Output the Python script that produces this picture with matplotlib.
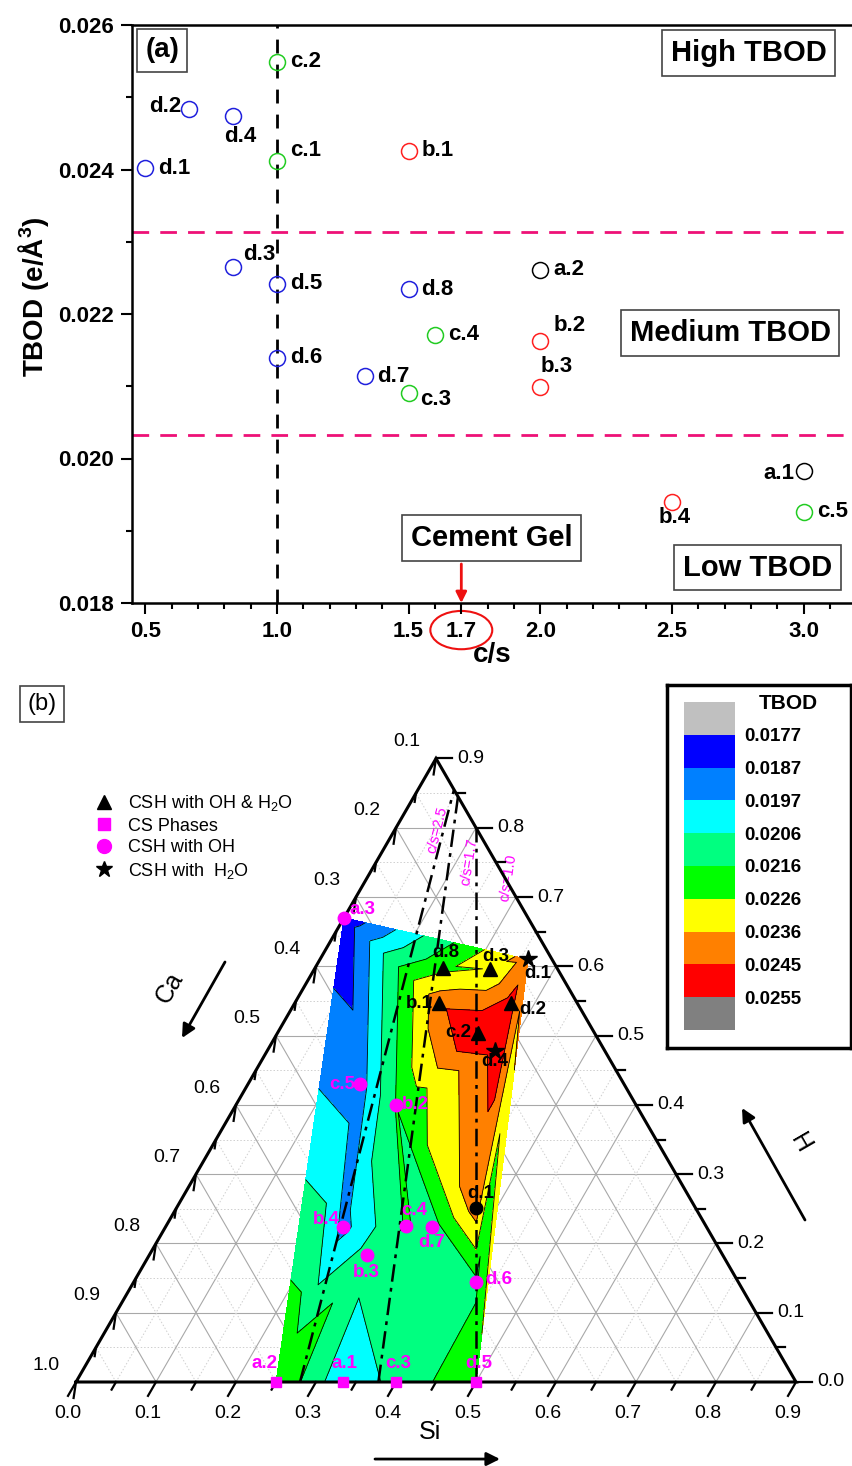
import numpy as np
import matplotlib
matplotlib.use('Agg')
import matplotlib.pyplot as plt
import matplotlib.tri as mtri
from matplotlib.colors import ListedColormap, BoundaryNorm
from matplotlib.patches import Ellipse
from matplotlib.lines import Line2D

plt.rcParams['font.family'] = ['Liberation Sans', 'DejaVu Sans']
plt.rcParams['mathtext.fontset'] = 'custom'
plt.rcParams['mathtext.rm'] = 'Liberation Sans'
plt.rcParams['mathtext.it'] = 'Liberation Sans:italic'
plt.rcParams['mathtext.bf'] = 'Liberation Sans:bold'

# ---- panel (a): TBOD vs c/s ----
names_a = ['d.1', 'd.2', 'd.4', 'c.2', 'c.1', 'b.1', 'd.3', 'd.5', 'd.8', 'a.2',
           'c.4', 'b.2', 'd.6', 'd.7', 'c.3', 'b.3', 'a.1', 'b.4', 'c.5']
cs_ratio = [0.5, 0.667, 0.833, 1.0, 1.0, 1.5, 0.833, 1.0, 1.5, 2.0,
            1.6, 2.0, 1.0, 1.333, 1.5, 2.0, 3.0, 2.5, 3.0]
tbod_a = [0.02402, 0.02484, 0.02474, 0.02549, 0.02412, 0.02426, 0.02265, 0.02242, 0.02235, 0.02261,
          0.02171, 0.02163, 0.02139, 0.02114, 0.02091, 0.02099, 0.01983, 0.01940, 0.01926]
group_colour = {'a': 'black', 'b': '#ff2020', 'c': '#22cc22', 'd': '#2020dd'}
high_cut = 0.02313
low_cut = 0.02033

# ---- panel (b): ternary Ca-Si-H map ----
names_b = ['a.3', 'd.8', 'd.3', 'd.1', 'b.1', 'd.2', 'c.2', 'd.4', 'c.5', 'b.2',
           'd.1', 'b.4', 'c.4', 'd.7', 'b.3', 'd.6', 'a.2', 'a.1', 'c.3', 'd.5']
si_b = [0.00, 0.16, 0.22, 0.26, 0.18, 0.27, 0.25, 0.285, 0.14, 0.20,
        0.375, 0.222, 0.30, 0.333, 0.272, 0.428, 0.25, 0.334, 0.40, 0.50]
h_b = [0.67, 0.598, 0.596, 0.61, 0.547, 0.547, 0.504, 0.478, 0.43, 0.40,
       0.251, 0.224, 0.225, 0.224, 0.183, 0.144, 0.0, 0.0, 0.0, 0.0]
kind_b = ['oh', 'both', 'both', 'h2o', 'both', 'both', 'both', 'h2o', 'oh', 'oh',
          'dot', 'oh', 'oh', 'oh', 'oh', 'oh', 'cs', 'cs', 'cs', 'cs']
tbod_b = [0.0180, 0.02235, 0.02265, 0.02402, 0.02426, 0.02484, 0.02549, 0.02474, 0.01926, 0.02163,
          0.02412, 0.01940, 0.02171, 0.02114, 0.02099, 0.02139, 0.02261, 0.01983, 0.02091, 0.02242]
levels = [0.0177, 0.0187, 0.0197, 0.0206, 0.0216, 0.0226, 0.0236, 0.0245, 0.0255]
band_colours = ['#0000ff', '#0080ff', '#00ffff', '#00ff80', '#00ff00', '#ffff00', '#ff8000', '#ff0000']
under_colour, over_colour = '#c0c0c0', '#808080'
cs_lines = {'c/s=2.5': ([0.28, 0.045], [0.0, 0.855]),
            'c/s=1.7': ([0.378, 0.055], [0.0, 0.845]),
            'c/s=1.0': ([0.50, 0.10], [0.0, 0.80])}

W, H = 852, 1466
fig = plt.figure(figsize=(W / 100, H / 100), dpi=100)

# ================= panel (a) =================
ax1 = fig.add_axes([132 / W, 1 - 603 / H, 720 / W, 578 / H])
ax1.set_xlim(0.45, 3.183)
ax1.set_ylim(0.018, 0.026)

ax1.axhline(high_cut, color='#ee1177', ls=(0, (6, 4)), lw=2, zorder=1)
ax1.axhline(low_cut, color='#ee1177', ls=(0, (6, 4)), lw=2, zorder=1)
ax1.axvline(1.0, color='black', ls=(0, (5, 4)), lw=2, zorder=1)

offsets_a = {0: (13, 0, 'left'), 1: (-8, 2, 'right'), 2: (7, -20, 'center'), 3: (13, 0, 'left'),
             4: (13, 10, 'left'), 5: (13, 0, 'left'), 6: (10, 13, 'left'), 7: (13, 0, 'left'),
             8: (13, -1, 'left'), 9: (13, 0, 'left'), 10: (13, 0, 'left'), 11: (13, 15, 'left'),
             12: (13, 1, 'left'), 13: (13, 0, 'left'), 14: (12, -7, 'left'), 15: (16, 20, 'center'),
             16: (-9, -3, 'right'), 17: (3, -16, 'center'), 18: (13, 0, 'left')}
for i, (n, x, y) in enumerate(zip(names_a, cs_ratio, tbod_a)):
    ax1.plot(x, y, 'o', ms=11.5, mfc='none', mec=group_colour[n[0]], mew=1.1, zorder=3)
    dx, dy, ha = offsets_a[i]
    ax1.annotate(n, (x, y), xytext=(dx, dy), textcoords='offset pixels', ha=ha, va='center',
                 fontsize=16, fontweight='bold', zorder=4)

ax1.set_xticks([0.5, 1.0, 1.5, 1.7, 2.0, 2.5, 3.0])
ax1.set_xticks(np.arange(0.5, 3.15, 0.1), minor=True)
ax1.set_yticks([0.018, 0.020, 0.022, 0.024, 0.026])
ax1.set_yticks(np.arange(0.018, 0.0261, 0.001), minor=True)
ax1.set_yticklabels(['0.018', '0.020', '0.022', '0.024', '0.026'])
for lab in ax1.get_xticklabels() + ax1.get_yticklabels():
    lab.set_fontweight('bold')
ax1.tick_params(which='major', direction='out', length=8, width=1.5, labelsize=16, pad=5)
ax1.tick_params(which='minor', direction='out', length=4.5, width=1.5)
ax1.spines['right'].set_visible(False)
for s in ['left', 'bottom', 'top']:
    ax1.spines[s].set_linewidth(1.8)
ax1.set_xlabel('c/s', fontsize=20, fontweight='bold', labelpad=0)
ax1.set_ylabel(r'TBOD (e/Å$^{\mathbf{3}}$)', fontsize=20, fontweight='bold')
ax1.yaxis.set_label_coords(-0.112, 0.53)

box = dict(boxstyle='square,pad=0.3', fc='white', ec='#444444', lw=1.2)
ax1.text(0.5645, 0.02565, '(a)', fontsize=20, fontweight='bold', ha='center', va='center', bbox=box)
ax1.text(2.79, 0.02561, 'High TBOD', fontsize=21, fontweight='bold', ha='center', va='center', bbox=box)
ax1.text(2.72, 0.02174, 'Medium TBOD', fontsize=21, fontweight='bold', ha='center', va='center', bbox=box)
ax1.text(2.825, 0.01849, 'Low TBOD', fontsize=21, fontweight='bold', ha='center', va='center', bbox=box)
ax1.text(1.815, 0.0189, 'Cement Gel', fontsize=21, fontweight='bold', ha='center', va='center', bbox=box)
ax1.annotate('', xy=(1.7, 0.018), xytext=(1.7, 0.01854),
             arrowprops=dict(arrowstyle='-|>', color='#ee1111', lw=2, mutation_scale=16, shrinkA=0, shrinkB=0))
ax1.add_patch(Ellipse((1.7, 0.017625), 0.235, 0.00053, fill=False, ec='#ee1111', lw=1.5, clip_on=False))

# ================= panel (b) =================
SQ3 = np.sqrt(3) / 2


def tern(si, h):
    si = np.asarray(si, float)
    h = np.asarray(h, float)
    return si + h / 2, h * SQ3


ax2 = fig.add_axes([0, 0, 1, 786 / H])
ax2.set_xlim(-0.095, 0.97)
ax2.set_ylim(-0.105, 0.8775)
ax2.axis('off')

# grid
for k in range(1, 18):
    v = k * 0.05
    if k % 2 == 0:
        st = dict(color='#a8a8a8', lw=0.8, ls='-', zorder=1)
    else:
        st = dict(color='#cfcfcf', lw=0.7, ls=(0, (1.5, 2)), zorder=1)
    ax2.plot(*tern([0, 0.9 - v], [v, v]), **st)
    ax2.plot(*tern([v, v], [0, 0.9 - v]), **st)
    ax2.plot(*tern([v, 0], [0, v]), **st)

# contour map
cx, cy = tern(si_b, h_b)
tri = mtri.Triangulation(cx, cy)
cmap = ListedColormap(band_colours)
cmap.set_under(under_colour)
cmap.set_over(over_colour)
norm = BoundaryNorm(levels, cmap.N)
cf = ax2.tricontourf(tri, tbod_b, levels=levels, cmap=cmap, norm=norm, extend='both', zorder=2)
ax2.tricontour(tri, tbod_b, levels=levels, colors='black', linewidths=0.6, zorder=3)

# c/s guide lines
for lab, (s, h) in cs_lines.items():
    ax2.plot(*tern(s, h), color='black', lw=1.8, ls=(0, (7, 2.5, 1.5, 2.5)), zorder=4)
ax2.text(0.451, 0.69, 'c/s=2.5', color='magenta', fontsize=10.5, rotation=76, ha='center', va='center', zorder=6)
ax2.text(0.491, 0.65, 'c/s=1.7', color='magenta', fontsize=10.5, rotation=81, ha='center', va='center', zorder=6)
ax2.text(0.54, 0.63, 'c/s=1.0', color='magenta', fontsize=10.5, rotation=81, ha='center', va='center', zorder=6)

# triangle frame
ax2.plot(*tern([0, 0.9, 0, 0], [0, 0, 0.9, 0]), color='black', lw=2.2, zorder=7, solid_joinstyle='miter')

# ticks and labels
for k in range(19):
    v = k * 0.05
    major = k % 2 == 0
    L = 0.02 if major else 0.011
    # bottom (Si)
    x0, y0 = tern(v, 0)
    ax2.plot([x0, x0 - 0.5 * L], [y0, y0 - SQ3 * L], color='black', lw=1.6, zorder=7)
    # left (Ca)
    x0, y0 = tern(0, v)
    ax2.plot([x0, x0 - 0.15 * L], [y0, y0 - L], color='black', lw=1.6, zorder=7)
    # right (H)
    x0, y0 = tern(0.9 - v, v)
    ax2.plot([x0, x0 + L], [y0, y0], color='black', lw=1.6, zorder=7)
    if major:
        x0, y0 = tern(v, 0)
        ax2.text(x0 - 0.01, y0 - 0.039, f'{v:.1f}', fontsize=14, ha='center', va='center')
        x0, y0 = tern(0, v)
        ax2.text(x0 - 0.037, y0 + 0.021, f'{1.0 - v:.1f}', fontsize=14, ha='center', va='center')
        x0, y0 = tern(0.9 - v, v)
        ax2.text(x0 + 0.026, y0, f'{v:.1f}', fontsize=14, ha='left', va='center')

# axis names and arrows
arrow = dict(arrowstyle='-|>', color='black', lw=2, mutation_scale=20, shrinkA=0, shrinkB=0)
ax2.text(0.1175, 0.4925, 'Ca', fontsize=18, rotation=60, ha='center', va='center')
ax2.annotate('', xy=(0.1325, 0.43), xytext=(0.18625, 0.525), arrowprops=arrow)
ax2.text(0.906, 0.299, 'H', fontsize=18, rotation=-60, ha='center', va='center')
ax2.annotate('', xy=(0.8325, 0.3425), xytext=(0.91125, 0.2025), arrowprops=arrow)
ax2.text(0.4425, -0.0625, 'Si', fontsize=18, ha='center', va='center')
ax2.annotate('', xy=(0.53, -0.0963), xytext=(0.37375, -0.0963), arrowprops=arrow)

# markers and labels
mk = {'both': dict(marker='^', color='black', ms=10),
      'h2o': dict(marker='*', color='black', ms=13),
      'oh': dict(marker='o', color='magenta', ms=9),
      'dot': dict(marker='o', color='black', ms=9),
      'cs': dict(marker='s', color='magenta', ms=7)}
offsets_b = [(6, 8, 'left'), (3, 15, 'center'), (5, 13, 'center'), (10, -14, 'center'),
             (-6, 0, 'right'), (8, -6, 'left'), (-6, 0, 'right'), (0, -11, 'center'),
             (-5, 0, 'right'), (6, 0, 'left'), (4, 15, 'center'), (-3, 7, 'right'),
             (8, 16, 'center'), (0, -16, 'center'), (0, -17, 'center'), (9, 3, 'left'),
             (-12, 18, 'center'), (1, 18, 'center'), (2, 18, 'center'), (3, 19, 'center')]
for n, x, y, kd, off in zip(names_b, cx, cy, kind_b, offsets_b):
    st = mk[kd]
    ax2.plot(x, y, ls='none', marker=st['marker'], ms=st['ms'], mfc=st['color'], mec=st['color'],
             zorder=8, clip_on=False)
    tc = 'magenta' if st['color'] == 'magenta' else 'black'
    ax2.annotate(n, (x, y), xytext=off[:2], textcoords='offset pixels', ha=off[2], va='center',
                 fontsize=13.5, fontweight='bold', color=tc, zorder=9)

handles = [Line2D([], [], ls='none', marker='^', color='black', ms=10),
           Line2D([], [], ls='none', marker='s', color='magenta', ms=9),
           Line2D([], [], ls='none', marker='o', color='magenta', ms=10),
           Line2D([], [], ls='none', marker='*', color='black', ms=12)]
labels = ['CSH with OH & H$_2$O', 'CS Phases', 'CSH with OH', 'CSH with  H$_2$O']
fig.legend(handles, labels, loc='upper left', bbox_to_anchor=(86 / W, 1 - 784 / H), frameon=False,
           fontsize=13, handlelength=1.0, handletextpad=0.8, labelspacing=0.25, borderpad=0)

# panel label
fig.text(42 / W, 1 - 704 / H, '(b)', fontsize=17, ha='center', va='center',
         bbox=dict(boxstyle='square,pad=0.3', fc='white', ec='#444444', lw=1.2))

# colour scale box
bx = fig.add_axes([667 / W, 1 - 1048 / H, 184 / W, 363 / H])
bx.set_xticks([])
bx.set_yticks([])
for s in bx.spines.values():
    s.set_linewidth(2.5)
bx.text(0.66, 0.95, 'TBOD', fontsize=15, fontweight='bold', ha='center', va='center', transform=bx.transAxes)
cax = fig.add_axes([684 / W, 1 - 1030 / H, 51 / W, 328 / H])
cax.invert_yaxis()
cb = fig.colorbar(cf, cax=cax, extend='both', extendfrac=0.125, extendrect=True, ticks=levels)
cb.outline.set_visible(False)
cb.ax.tick_params(length=0, pad=7, labelsize=13.5)
cb.ax.set_yticklabels([f'{v:.4f}' for v in levels], fontweight='bold')

fig.savefig('out.png', dpi=100)
